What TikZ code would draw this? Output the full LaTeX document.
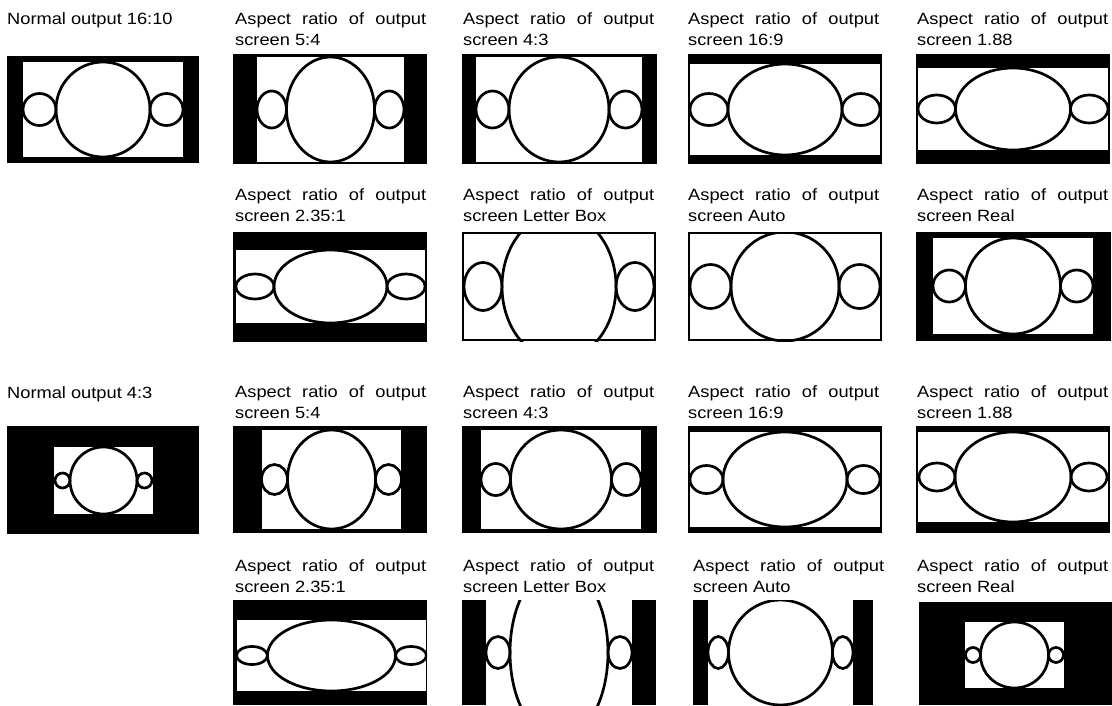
\documentclass[tikz,border=0pt]{standalone}
\usepackage{fontspec}
\setmainfont{Liberation Sans}[FakeStretch=1.12]
\usepackage{tikz}
\tolerance=10000
\tikzset{
  lbl/.style={anchor=north west, inner sep=0pt, text width=191pt, align=justify,
    font=\fontsize{16.3}{21}\selectfont},
  ttl/.style={anchor=north west, inner sep=0pt, font=\fontsize{16.3}{21}\selectfont},
  ring/.style={line width=2.7pt}
}

\begin{document}
\begin{tikzpicture}[x=1pt, y=-1pt]
  \useasboundingbox (0,0) rectangle (1112,705);

  % Screens: outer box / white picture area / big and side ellipses
  \foreach \xa/\ya/\xb/\yb/\xc/\yc/\xd/\yd/\bx/\by/\sx/\sy in {
    7/56/199/163/23/62/183/157/47/47.5/16.5/16,
    233/54/427/164/257/57/404/162/44/52.5/14.75/18.5,
    462/54/657/164/476/57/642/162/50/52.5/16.5/18.5,
    688/54/882/164/690/64/880/155/57/45.5/19/16,
    916/54/1110/164/918/68/1108/150/57.5/41/18.75/14,
    233/232/427/342/236/250/425/323/56.5/36.5/19/12.5,
    462/232/656/341/464/234/654/339/57/73/19/24,
    688/232/882/341/690/234/880/339/54/54.5/20.5/22,
    916/232/1111/341/933/238/1093/334/47.5/48/16.25/16,
    7/426/199/534/54/447/153/514/33.5/33.5/7.5/7.5,
    233/426/427/533/262/430/401/529/44/49.5/13/15,
    462/426/657/533/481/430/641/529/50.5/49.5/14.75/16,
    688/426/882/533/690/432/880/527/62/47.5/16.5/14,
    916/426/1110/533/918/432/1108/522/58/45/18/14,
    233/600/427/705/237/620/426/691/64/35.5/15.5/9,
    462/600/656/705/486/600/632/705/49/86.6/12/16,
    693/600/873/705/708/600/853/705/52/52.5/10.25/16,
    919/602/1112/705/965/622/1064/688/34/33/7.5/7.5%
  }{
    \fill[black] (\xa,\ya) rectangle (\xb,\yb);
    \fill[white] (\xc,\yc) rectangle (\xd,\yd);
    \pgfmathsetmacro\cx{(\xc+\xd)/2}
    \pgfmathsetmacro\cy{(\yc+\yd)/2}
    \begin{scope}
      \clip (\xa,\ya) rectangle (\xb,\yb);
      \draw[ring] (\cx,\cy) ellipse ({\bx} and {\by});
      \draw[ring] (\cx-\bx-\sx,\cy) ellipse ({\sx} and {\sy});
      \draw[ring] (\cx+\bx+\sx,\cy) ellipse ({\sx} and {\sy});
    \end{scope}
  }

  % Labels, source 16:10
  \node[ttl] (src1) at (7,12) {Normal output 16:10};
  \node[lbl] (r1c2) at (235,12) {Aspect ratio of output screen 5:4};
  \node[lbl] (r1c3) at (463,12) {Aspect ratio of output screen 4:3};
  \node[lbl] (r1c4) at (688,12) {Aspect ratio of output screen 16:9};
  \node[lbl] (r1c5) at (917,12) {Aspect ratio of output screen 1.88};
  \node[lbl] (r2c2) at (235,188) {Aspect ratio of output screen 2.35:1};
  \node[lbl] (r2c3) at (463,188) {Aspect ratio of output screen Letter Box};
  \node[lbl] (r2c4) at (688,188) {Aspect ratio of output screen Auto};
  \node[lbl] (r2c5) at (917,188) {Aspect ratio of output screen Real};

  % Labels, source 4:3
  \node[ttl] (src2) at (7,386) {Normal output 4:3};
  \node[lbl] (r3c2) at (235,385) {Aspect ratio of output screen 5:4};
  \node[lbl] (r3c3) at (463,385) {Aspect ratio of output screen 4:3};
  \node[lbl] (r3c4) at (688,385) {Aspect ratio of output screen 16:9};
  \node[lbl] (r3c5) at (917,385) {Aspect ratio of output screen 1.88};
  \node[lbl] (r4c2) at (235,559) {Aspect ratio of output screen 2.35:1};
  \node[lbl] (r4c3) at (463,559) {Aspect ratio of output screen Letter Box};
  \node[lbl] (r4c4) at (693,559) {Aspect ratio of output screen Auto};
  \node[lbl] (r4c5) at (917,559) {Aspect ratio of output screen Real};
\end{tikzpicture}
\end{document}
